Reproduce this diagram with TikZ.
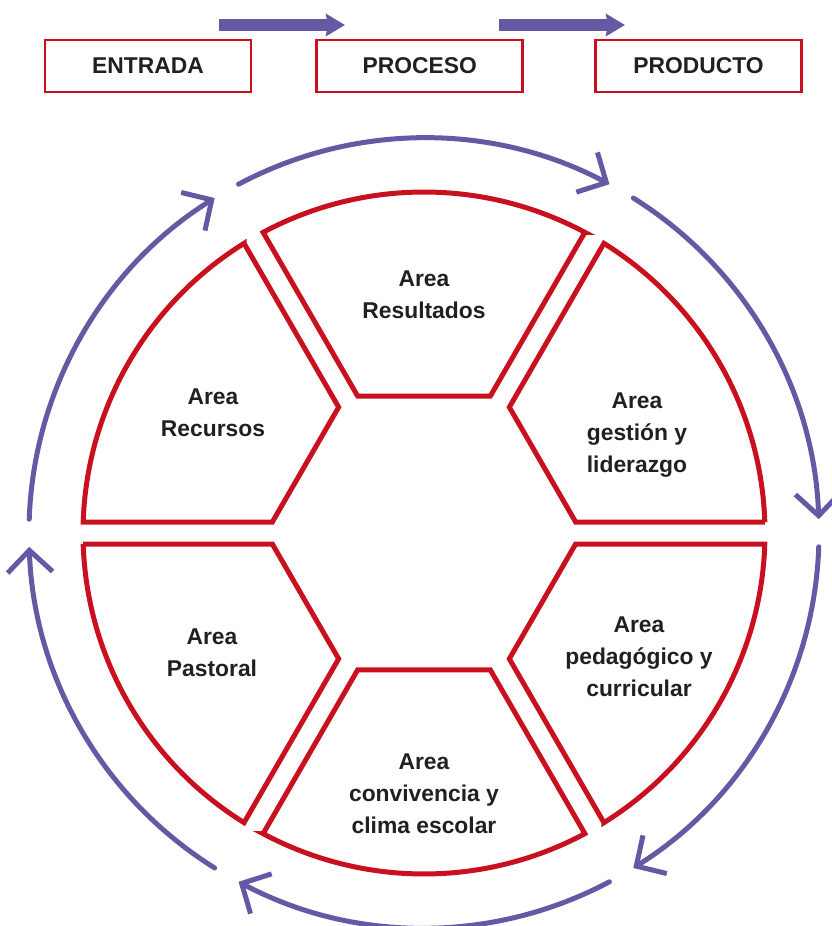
\documentclass[tikz,border=0pt]{standalone}
\usepackage{fontspec}
\setmainfont{Liberation Sans}
\usetikzlibrary{arrows.meta,calc,positioning}
\definecolor{rojo}{RGB}{200,16,30}
\definecolor{lila}{RGB}{102,89,163}
\definecolor{tinta}{RGB}{35,31,32}
\tikzset{
  caja/.style={draw=rojo, line width=0.055cm, minimum width=4.12cm,
    minimum height=1.04cm, inner sep=0pt, text=tinta,
    font=\fontsize{13}{18}\selectfont\bfseries},
  area/.style={align=center, text=tinta, font=\fontsize{13}{18.2}\selectfont\bfseries},
  pieza/.style={draw=rojo, line width=0.1cm},
  ciclo/.style={draw=lila, line width=0.1cm, line cap=round,
    -{Straight Barb[length=0.44cm,width=0.9cm]}},
  flecha/.style={draw=lila, line width=0.26cm,
    -{Stealth[length=0.38cm,width=0.44cm,inset=0.04cm]}}
}
\pgfmathsetmacro\radio{6.82}
\pgfmathsetmacro\hexr{3.16}
\pgfmathsetmacro\radcic{7.9}

\begin{document}
\begin{tikzpicture}
    \useasboundingbox (-8.48,-7.86) rectangle (8.16,10.66);

    % entrada - proceso - producto
    \node[caja] (entrada) at (-5.52,9.34) {ENTRADA};
    \node[caja, right=1.26cm of entrada] (proceso) {PROCESO};
    \node[caja, right=1.40cm of proceso] (producto) {PRODUCTO};
    \path (-4.10,10.16) coordinate (f1a) (-1.58,10.16) coordinate (f1b);
    \path (1.50,10.16) coordinate (f2a) (4.02,10.16) coordinate (f2b);
    \draw[flecha] (f1a) to (f1b);
    \draw[flecha] (f2a) to (f2b);

    % areas
    \foreach \a in {0,60,...,300}
    { \draw[pieza] (\a+1.85:\radio) -- ($(\a:\hexr)!2.54mm!(\a+60:\hexr)$)
        -- ($(\a+60:\hexr)!2.54mm!(\a:\hexr)$) -- (\a+58.15:\radio)
        arc[start angle=\a+58.15, end angle=\a+1.85, radius=\radio] -- cycle; }
    \node[area] (resultados) at (0,4.76) {Area\\Resultados};
    \node[area] (recursos) at (-4.22,2.40) {Area\\Recursos};
    \node[area] (gestion) at (4.26,1.96) {Area\\gestión y\\liderazgo};
    \node[area] (pedagogico) at (4.30,-2.48) {Area\\pedagógico y\\curricular};
    \node[area] (pastoral) at (-4.24,-2.40) {Area\\Pastoral};
    \node[area] (convivencia) at (0,-5.22) {Area\\convivencia y\\clima escolar};

    % ciclo
    \foreach \a in {0,60,...,300}
    { \draw[ciclo] (\a+58:\radcic) arc[start angle=\a+58, end angle=\a+2, radius=\radcic]; }

\end{tikzpicture}
\end{document}
